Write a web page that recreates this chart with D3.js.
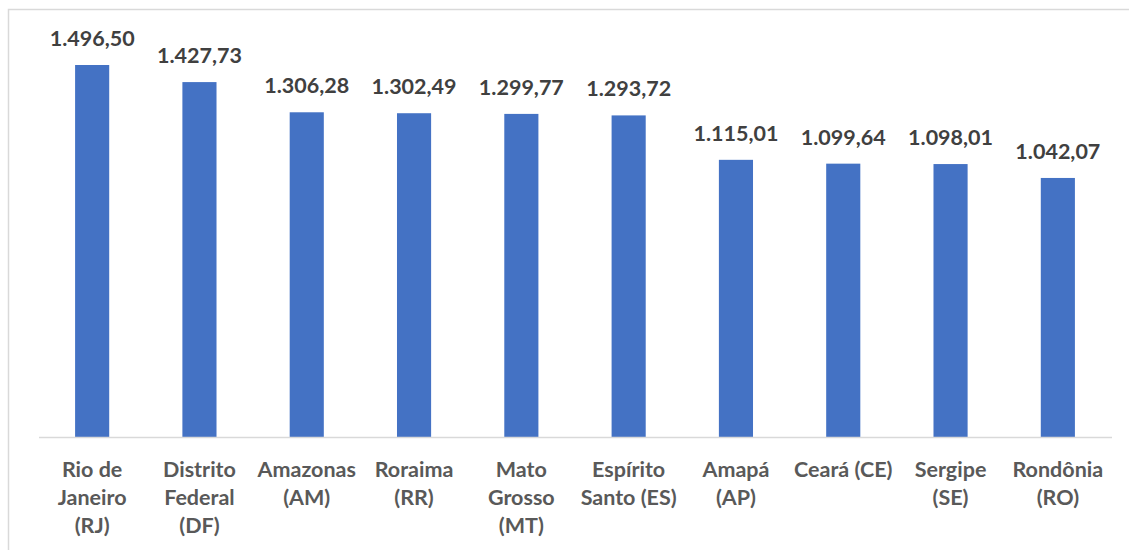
<!DOCTYPE html>
<html>
<head>
<meta charset="utf-8">
<script src="https://cdn.jsdelivr.net/npm/d3@7"></script>
<style>
  body { margin: 0; background: #fff; }
  svg { display: block; }
</style>
</head>
<body>
<div id="chart"></div>
<script>
// data
var states = ["Rio de Janeiro (RJ)", "Distrito Federal (DF)", "Amazonas (AM)", "Roraima (RR)",
              "Mato Grosso (MT)", "Espírito Santo (ES)", "Amapá (AP)", "Ceará (CE)",
              "Sergipe (SE)", "Rondônia (RO)"];
var values = [1496.50, 1427.73, 1306.28, 1302.49, 1299.77, 1293.72, 1115.01, 1099.64, 1098.01, 1042.07];
// wrapped tick labels as in the original
var tickLines = [
  ["Rio de", "Janeiro", "(RJ)"],
  ["Distrito", "Federal", "(DF)"],
  ["Amazonas", "(AM)"],
  ["Roraima", "(RR)"],
  ["Mato", "Grosso", "(MT)"],
  ["Espírito", "Santo (ES)"],
  ["Amapá", "(AP)"],
  ["Ceará (CE)"],
  ["Sergipe", "(SE)"],
  ["Rondônia", "(RO)"]
];

var W = 1129, H = 550;
var svg = d3.select("#chart").append("svg")
    .attr("width", W)
    .attr("height", H);

// chart frame (runs off right/bottom edge in the picture)
svg.append("rect")
    .attr("x", 8.5).attr("y", 9.5)
    .attr("width", W + 20).attr("height", H + 20)
    .attr("fill", "none")
    .attr("stroke", "#d9d9d9")
    .attr("stroke-width", 1.5);

var x = d3.scaleBand()
    .domain(states)
    .range([38.5, 1111.5])
    .padding(0);

var y = d3.scaleLinear()
    .domain([0, 1496.5])
    .range([437, 65]);

var barW = x.bandwidth() * 0.318;
var fmt = d3.formatLocale({decimal: ",", thousands: ".", grouping: [3], currency: ["R$", ""]}).format(",.2f");

var font = "Lato, 'Open Sans', sans-serif";
var fsize = "21.5px";

var g = svg.append("g");

g.selectAll("rect.bar")
  .data(values)
  .enter()
  .append("rect")
    .attr("class", "bar")
    .attr("x", function(d, i) { return x(states[i]) + x.bandwidth() / 2 - barW / 2; })
    .attr("y", function(d) { return y(d); })
    .attr("width", barW)
    .attr("height", function(d) { return y(0) - y(d); })
    .style("fill", "#4472c4");

// value labels
g.selectAll("text.val")
  .data(values)
  .enter()
  .append("text")
    .attr("class", "val")
    .attr("x", function(d, i) { return x(states[i]) + x.bandwidth() / 2; })
    .attr("y", function(d) { return y(d) - 19; })
    .attr("text-anchor", "middle")
    .style("font-family", font)
    .style("font-weight", "bold")
    .style("font-size", fsize)
    .style("fill", "#404040")
    .text(function(d) { return fmt(d); });

// x axis baseline
var xAxis = d3.axisBottom(x).tickSize(0).tickFormat("");
var ax = svg.append("g")
    .attr("transform", "translate(0," + y(0) + ")")
    .call(xAxis);
ax.select(".domain").attr("stroke", "#d9d9d9").attr("stroke-width", 1.5);

// category labels, wrapped
var cats = svg.append("g").selectAll("text.cat")
  .data(states)
  .enter()
  .append("text")
    .attr("class", "cat")
    .attr("text-anchor", "middle")
    .style("font-family", font)
    .style("font-weight", "bold")
    .style("font-size", fsize)
    .style("fill", "#595959");

cats.each(function(d, i) {
  var t = d3.select(this);
  var cx = x(d) + x.bandwidth() / 2;
  tickLines[i].forEach(function(line, j) {
    t.append("tspan")
      .attr("x", cx)
      .attr("y", 476.5 + j * 28)
      .text(line);
  });
});
</script>
</body>
</html>
